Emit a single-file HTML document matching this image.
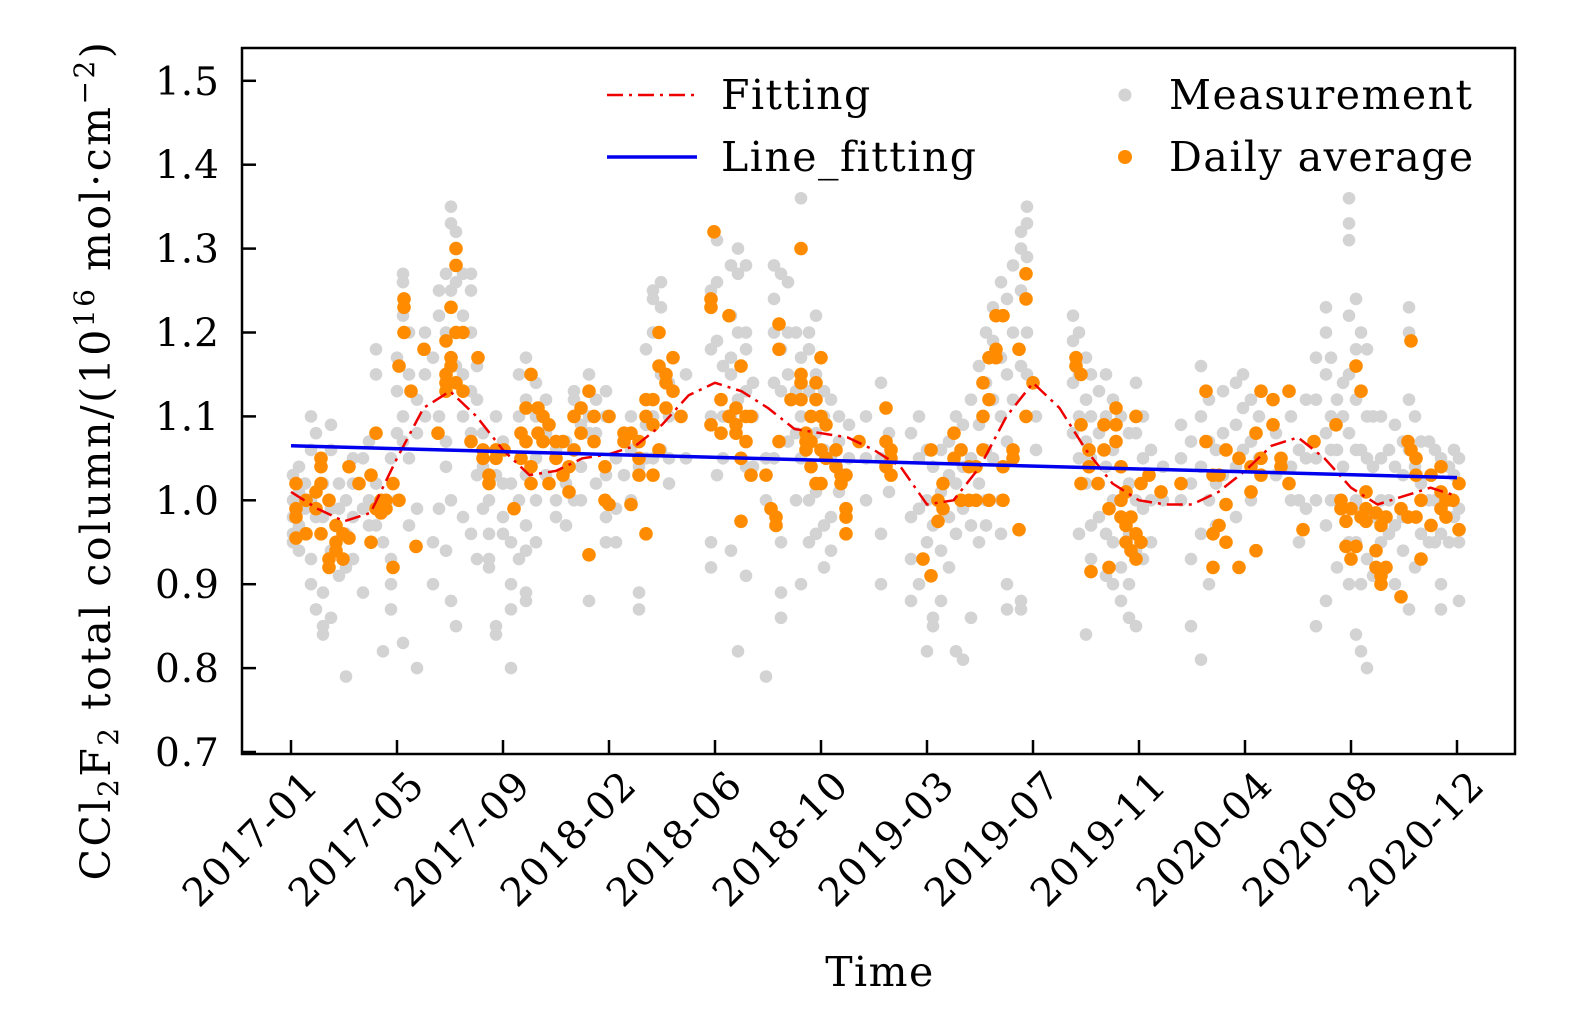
<!DOCTYPE html>
<html><head><meta charset="utf-8"><style>
body{margin:0;background:#fff;}
svg{display:block;font-family:"DejaVu Serif","Liberation Serif",serif;}
</style></head><body>
<svg id="chart" width="1575" height="1014" viewBox="0 0 1575 1014">
<g id="gray"></g>
<g id="orange"></g>
<g id="lines"></g>
<rect x="242" y="48" width="1273" height="706" fill="none" stroke="#000" stroke-width="2.5"/>
<g id="axes"></g>
<g font-size="41" letter-spacing="1.5">
  <line x1="607" y1="95" x2="697" y2="95" stroke="#e00" stroke-width="2.5" stroke-dasharray="16,6,3,6"/>
  <text x="721" y="109">Fitting</text>
  <line x1="607" y1="157" x2="697" y2="157" stroke="#0000ee" stroke-width="3.5"/>
  <text x="721" y="171">Line_fitting</text>
  <circle cx="1125" cy="95" r="6.5" fill="#d3d3d3"/>
  <text x="1169" y="109">Measurement</text>
  <circle cx="1125" cy="157" r="7" fill="#ff8c00"/>
  <text x="1169" y="171">Daily average</text>
</g>
<text x="880" y="986" font-size="41" letter-spacing="1.5" text-anchor="middle">Time</text>
<text transform="translate(110,460) rotate(-90)" font-size="41" letter-spacing="2.5" text-anchor="middle">CCl<tspan font-size="28" dy="8">2</tspan><tspan dy="-8">F</tspan><tspan font-size="28" dy="8">2</tspan><tspan dy="-8"> total column/(10</tspan><tspan font-size="28" dy="-16">16</tspan><tspan dy="16"> mol·cm</tspan><tspan font-size="28" dy="-16">−2</tspan><tspan dy="16">)</tspan></text>
</svg>
<script>
const xTickLabels=["2017-01","2017-05","2017-09","2018-02","2018-06","2018-10","2019-03","2019-07","2019-11","2020-04","2020-08","2020-12"];
const yTicks=[0.7,0.8,0.9,1.0,1.1,1.2,1.3,1.4,1.5];
const fitT=[0,0.25,0.5,0.75,1,1.25,1.5,1.75,2,2.25,2.5,2.75,3,3.25,3.5,3.75,4,4.25,4.5,4.75,5,5.25,5.5,5.75,6,6.25,6.5,6.75,7,7.25,7.5,7.75,8,8.25,8.5,8.75,9,9.25,9.5,9.75,10,10.25,10.5,10.75,11];
const fitV=[1.01,0.99,0.975,0.985,1.05,1.11,1.13,1.1,1.06,1.03,1.035,1.05,1.055,1.065,1.09,1.125,1.14,1.13,1.11,1.085,1.08,1.075,1.06,1.04,0.995,1.0,1.04,1.1,1.14,1.11,1.06,1.02,1.0,0.995,0.995,1.01,1.035,1.065,1.075,1.05,1.015,0.995,1.005,1.015,1.005];
const lineStart=[0,1.065];
const lineEnd=[11,1.027];
// day groups: [day, values...], day units where 106 days = one tick interval
const daily=[[5,1.02,0.955,0.99,0.98],[15,1.0,0.96],[25,1.01,0.99],[30,0.96,1.05,1.04,1.02],[38,0.92,0.93,1.0],[45,0.95,0.97,0.94],[52,0.96,0.93],[58,1.04,0.955],[68,1.02],[80,0.95,1.03],[85,1.08,0.99],[90,0.985,1.0],[95,0.99,1.0],[102,1.02,0.92],[108,1.16,1.0],[113,1.24,1.23,1.2],[120,1.13],[125,0.945],[133,1.18],[147,1.08],[155,1.13,1.19,1.15,1.14],[160,1.23,1.16,1.17],[165,1.3,1.28,1.2,1.14],[172,1.2,1.13],[180,1.07],[187,1.17],[192,1.06,1.05],[198,1.03,1.02],[205,1.06,1.05],[213,1.06],[223,0.99],[230,1.08,1.05],[235,1.11,1.07],[240,1.15,1.04,1.02],[247,1.08,1.11],[252,1.07,1.1],[258,1.02,1.09],[265,1.07,1.05],[272,1.07,1.03],[278,1.01,1.04],[283,1.1,1.06],[290,1.11,1.08],[298,0.935,1.13],[303,1.07,1.1],[314,1.04,1.0],[318,0.995,1.1],[333,1.07,1.08],[340,0.995,1.08],[348,1.05,1.03,1.07],[355,0.96,1.12,1.1],[362,1.12,1.09,1.03],[368,1.2,1.16,1.06],[375,1.15,1.14,1.11],[382,1.17,1.13],[390,1.1],[420,1.23,1.24,1.09],[423,1.32],[430,1.08,1.12],[438,1.1,1.22],[445,1.09,1.11,1.08],[450,0.975,1.16,1.05],[455,1.1,1.07],[460,1.03,1.1],[475,1.03],[480,0.99],[485,0.97,0.98],[488,1.21,1.18,1.07],[500,1.12],[510,1.3,1.15,1.14,1.12],[515,1.06,1.07,1.08],[520,1.1,1.07,1.04],[525,1.02,1.14,1.12],[530,1.17,1.06,1.1,1.02],[535,1.05,1.09],[545,1.06,1.04],[550,1.02,1.03],[555,0.96,0.98,0.99,1.03],[568,1.07],[595,1.07,1.11,1.04],[600,1.05,1.03,1.06],[632,0.93],[640,0.91,1.06],[647,0.975,1.0],[652,1.02,0.99],[663,1.08,1.05],[670,1.06,1.0],[678,1.0,1.04],[685,1.0,1.04],[692,1.06,1.1,1.14],[698,1.17,1.12,1.0],[705,1.18,1.22,1.17],[712,1.22,1.04,1.0],[722,1.05,1.06],[728,1.18,0.965],[735,1.27,1.24,1.1],[742,1.14],[785,1.17,1.16],[790,1.09,1.15,1.02],[798,1.06,1.04],[800,0.915],[807,1.02],[813,1.09,1.06],[818,0.92,0.99],[825,1.11,1.09,1.07],[830,1.04,1.0,0.98],[835,0.95,0.97,1.01],[840,0.98,0.94],[845,0.93,1.1,0.96],[850,1.02,0.95],[858,1.03],[870,1.01],[890,1.02],[915,1.13,1.07],[922,0.92,1.03,0.96],[928,1.03,0.97],[935,1.06,0.995,0.95],[948,0.92,1.05],[960,1.04,1.01],[965,1.08,0.94],[970,1.05,1.13,1.03],[982,1.09,1.12],[990,1.05,1.04],[998,1.13,1.02],[1012,0.965],[1023,1.07],[1045,1.09],[1050,0.99,1.0],[1055,0.975,0.945],[1060,0.99,0.93],[1065,1.16,0.945],[1070,1.13,0.98],[1075,1.01,0.99,0.975],[1085,0.92,0.94,0.985],[1090,0.91,0.9,0.97],[1095,0.92,0.98],[1110,0.885,0.99],[1117,0.98,1.07],[1120,1.19,1.06],[1125,1.03,1.05,0.98],[1130,0.93,1.0],[1140,1.03,0.97],[1150,0.99,1.01,1.04],[1155,1.0,0.98],[1162,1.0],[1168,0.965,1.02]];
const meas=[[2,0.96,0.98,1.0,1.03,0.95],[8,0.94,0.97,1.0,1.01,1.04],[14,0.99,1.02,0.96],[20,0.9,0.93,1.06,1.1,1.0],[25,0.87,0.98,1.08],[32,0.84,0.85,0.89,0.98,1.02],[40,0.86,0.94,0.99,1.06,1.09],[48,0.91,0.99,1.02],[55,0.79,0.92,0.96,1.0],[62,0.93,0.98,1.02,1.05],[72,0.89,0.99,1.05],[78,0.97,1.0,1.07],[85,1.15,1.18,1.02,0.97],[92,0.95,1.0,0.82],[100,0.87,0.9,0.93,1.05],[106,1.08,1.13,1.17,1.0],[112,1.27,1.26,1.22,1.1,1.07,0.83],[118,1.2,1.15,1.05,0.97],[126,1.12,1.08,0.99,0.8],[134,1.2,1.15,1.1],[142,0.9,0.95,1.17],[148,1.22,1.25,1.1,0.99],[155,1.27,1.2,1.07,1.04,0.94],[160,1.35,1.33,1.25,1.0,0.88],[165,1.32,1.3,1.26,1.16,0.85],[172,1.22,1.27,1.15,1.1,0.98],[180,1.25,1.27,1.2,1.13,1.08,0.96],[186,1.16,1.12,1.03,0.93],[192,1.08,1.04,0.99],[198,1.0,0.96,0.93,0.92],[205,0.84,0.85,1.03,1.1],[212,1.07,1.02,0.98,0.96],[220,0.8,0.87,0.9,0.95,1.02],[228,1.1,1.15,1.0,0.93],[235,1.17,1.12,1.03,0.97,0.94,0.89,0.88],[245,1.14,1.1,1.05,1.0,0.95],[255,1.12,1.08,1.03],[265,1.0,1.06,0.98],[275,1.07,1.02,0.97],[283,1.13,1.12,1.06,1.0],[290,1.0,1.04,1.09],[298,1.15,1.1,1.08,0.88],[305,1.12,1.08,1.02],[315,1.13,1.1,1.03,0.98,0.95],[325,1.05,0.99,0.95],[333,1.07,1.03],[340,1.1,1.06,1.0],[348,0.89,0.87,1.04],[355,1.12,1.18,1.09,1.05],[362,1.2,1.24,1.25,1.1,1.05],[370,1.23,1.26,1.15,1.06],[378,1.1,1.14,1.05,1.02],[395,1.15,1.05],[420,1.25,1.18,1.1,0.92,0.95],[426,1.31,1.26,1.19,1.03],[432,1.16,1.1,1.05],[440,1.28,1.22,1.17,1.15,1.1,0.94],[447,1.3,1.27,1.2,1.12,0.82],[455,1.28,1.2,1.18,1.13,1.04,0.91],[462,1.14,1.1,1.04],[475,1.05,1.0,0.79],[483,1.28,1.24,1.2,1.14,1.05],[490,1.27,1.18,1.13,0.95,0.89,0.86],[497,1.26,1.2,1.15,1.07],[505,1.2,1.13,1.08,1.0],[510,1.36,1.17,1.1,1.05,0.9],[518,1.2,1.18,1.13,1.0,0.95],[525,1.22,1.15,1.08,1.01,0.96],[533,1.13,1.1,1.06,0.97,0.92],[540,1.12,1.05,0.98,0.94],[548,1.1,1.07,1.01],[558,1.05,1.09],[575,1.05,1.1,1.0],[590,1.14,1.05,0.96,0.9],[598,1.08,1.01],[620,1.08,0.98,0.93,0.88],[628,1.1,1.05,0.99,0.9],[636,1.06,1.0,0.95,0.82],[642,1.04,0.97,0.85,0.86],[650,1.06,1.01,0.94,0.88],[658,1.07,1.03,0.98,0.92],[665,1.1,1.02,0.96,0.82],[672,1.09,1.04,0.99,0.81],[680,1.12,1.05,0.97,0.86],[688,1.16,1.09,1.02,0.95],[695,1.2,1.14,1.06,1.0,0.97],[702,1.23,1.19,1.12,1.05],[710,1.26,1.17,1.1,1.0,0.96],[716,1.24,1.15,1.07,0.9,0.87],[722,1.28,1.2,1.12,1.05],[730,1.32,1.3,1.25,1.16,0.88,0.87],[736,1.35,1.33,1.29,1.2,1.15],[745,1.1,1.06],[782,1.22,1.19,1.14,1.08],[788,1.2,1.15,1.1,1.05,0.96],[795,1.17,1.12,1.07,1.02,0.84],[800,1.15,1.1,1.05,0.97,0.93],[808,1.13,1.08,1.02,0.98],[815,1.15,1.1,1.04,0.96,0.91],[822,1.12,1.06,1.0,0.95,0.9],[830,1.1,1.04,0.98,0.92,0.88],[838,1.08,1.02,0.96,0.9,0.86],[845,1.14,1.08,1.0,0.94,0.85],[852,1.1,1.05,0.99,0.93],[860,1.06,1.0,0.95],[872,1.04,1.0],[890,1.09,1.05,1.0],[900,1.07,1.02,0.93,0.85],[910,1.16,1.1,1.04,0.96,0.81],[918,1.12,1.07,1.0,0.9],[925,1.06,1.02,0.97],[932,1.13,1.08,1.03],[945,1.14,1.09,1.04,0.98],[952,1.15,1.11,1.06],[960,1.12,1.07,1.0],[968,1.1,1.05],[985,1.08,1.03],[1000,1.1,1.04,1.0],[1008,1.06,1.0,0.95],[1015,1.12,1.05,0.99],[1025,1.17,1.12,1.05,1.0,0.85],[1035,1.23,1.2,1.15,1.08,0.97,0.88],[1040,1.17,1.1,1.06,1.0],[1046,1.12,1.06,1.0,0.92],[1052,1.14,1.1,1.04],[1058,1.36,1.33,1.31,1.22,1.15,1.08,0.95,0.9],[1065,1.24,1.18,1.12,1.06,1.0,0.95,0.84],[1070,1.2,1.13,1.06,0.99,0.9,0.82],[1076,1.18,1.1,1.05,0.98,0.93,0.8],[1082,1.1,1.04,0.98,0.91],[1090,1.1,1.05,1.0,0.95],[1098,1.06,1.0,0.96],[1104,1.09,1.04,0.97,0.9],[1112,1.07,1.03,0.98,0.94],[1118,1.23,1.2,1.12,1.06,0.87],[1124,1.1,1.04,0.98,0.92],[1130,1.07,1.02,0.96],[1138,1.07,1.0,0.95],[1144,1.06,1.0,0.95],[1150,1.05,1.01,0.96,0.9,0.87],[1158,1.04,1.0,0.95],[1163,1.06,1.03,0.98],[1168,1.05,0.99,0.95,0.88]];

const NS="http://www.w3.org/2000/svg";
const X0=291,XSTEP=106;
function xTick(t){return X0+t*XSTEP;}
function xDay(d){return X0+d*(XSTEP/106);}
function yS(v){return 752-(v-0.7)*839;}
function mk(tag,attrs,parent){const e=document.createElementNS(NS,tag);for(const k in attrs)e.setAttribute(k,attrs[k]);parent.appendChild(e);return e;}
const gG=document.getElementById('gray'),gO=document.getElementById('orange'),gL=document.getElementById('lines'),gA=document.getElementById('axes');
meas.forEach(g=>{for(let i=1;i<g.length;i++){const c=mk('circle',{cx:xDay(g[0]),cy:yS(g[i]),r:6.3,fill:'#d3d3d3'},gG);

}});
daily.forEach(g=>{for(let i=1;i<g.length;i++){const c=mk('circle',{cx:xDay(g[0]),cy:yS(g[i]),r:6.8,fill:'#ff8c00'},gO);

}});
let d='';fitT.forEach((t,i)=>{d+=(i?'L':'M')+xTick(t).toFixed(1)+' '+yS(fitV[i]).toFixed(1);});
const fp=mk('path',{d:d,fill:'none',stroke:'#e00','stroke-width':2.5,'stroke-dasharray':'16,6,3,6','stroke-linejoin':'round'},gL);


const lf=mk('line',{x1:xTick(lineStart[0]),y1:yS(lineStart[1]),x2:xTick(lineEnd[0]),y2:yS(lineEnd[1]),stroke:'#0000ee','stroke-width':3.5},gL);


yTicks.forEach(v=>{const y=yS(v);
const l=mk('line',{x1:242,y1:y,x2:256,y2:y,stroke:'#000','stroke-width':2.5},gA);


const t=mk('text',{x:220,y:y+14,'font-size':39,'letter-spacing':1,'text-anchor':'end'},gA);t.textContent=v.toFixed(1);

});
xTickLabels.forEach((s,i)=>{const x=xTick(i);
const l=mk('line',{x1:x,y1:754,x2:x,y2:740,stroke:'#000','stroke-width':2.5},gA);


const t=mk('text',{x:0,y:0,'font-size':39,'letter-spacing':1.5,'text-anchor':'end',transform:`translate(${x+30},${787}) rotate(-45)`},gA);t.textContent=s;

});
</script>
</body></html>
